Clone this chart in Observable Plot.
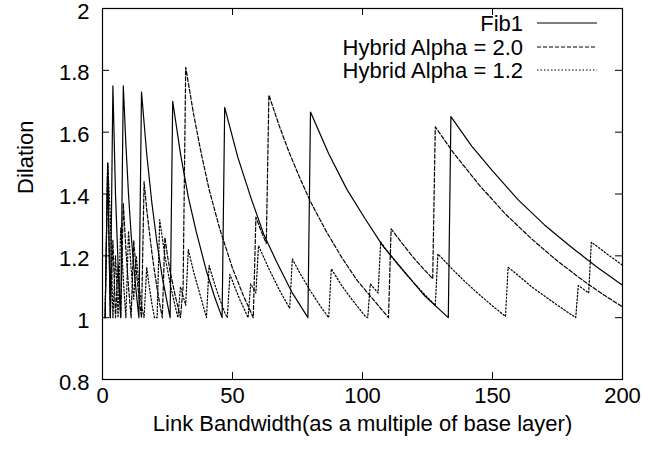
<!DOCTYPE html>
<html>
<head>
<meta charset="utf-8">
<script src="https://cdn.jsdelivr.net/npm/d3@7"></script>
<script src="https://cdn.jsdelivr.net/npm/@observablehq/plot@0.6"></script>
<style>
  body { margin: 0; background: #fff; }
  #chart { position: relative; width: 668px; height: 451px; }
  #legend { position: absolute; left: 0; top: 0; pointer-events: none; }
</style>
</head>
<body>
<div id="chart"></div>
<script>
// ---- data ----
const seriesNames = ["Fib1", "Hybrid Alpha = 2.0", "Hybrid Alpha = 1.2"];

const fib1 = [
  [1,1.0],[2,1.5],[3,1.0],[4,1.75],[5,1.4],[6,1.17],[7,1.0],[8,1.75],[9,1.56],[10,1.4],
  [11,1.27],[12,1.17],[13,1.08],[14,1.0],[15,1.73],[17,1.53],[19,1.37],[21,1.24],[23,1.13],
  [26,1.0],[27,1.70],[30,1.53],[33,1.39],[36,1.28],[40,1.15],[43,1.07],[46,1.0],[47,1.68],
  [52,1.52],[57,1.39],[62,1.27],[67,1.18],[73,1.08],[79,1.0],[80,1.665],[87,1.53],[94,1.415],
  [101,1.32],[108,1.23],[116,1.15],[124,1.07],[133,1.0],[134,1.65],[142,1.555],[150,1.475],
  [160,1.38],[170,1.30],[180,1.23],[190,1.165],[200,1.105]
];

const hybrid20 = [
  [1,1.0],[2,1.5],[3,1.0],[4,1.25],[5,1.0],[6,1.17],[7,1.0],[8,1.37],[9,1.22],[10,1.1],
  [11,1.0],[12,1.25],[13,1.15],[14,1.07],[15,1.0],[16,1.44],[17,1.35],[18,1.28],[19,1.21],
  [20,1.15],[21,1.095],[22,1.045],[23,1.0],[24,1.26],[25,1.2],[26,1.15],[27,1.11],[28,1.07],
  [29,1.035],[30,1.0],[31,1.1],[32,1.81],[35,1.66],[38,1.53],[41,1.415],[45,1.29],[50,1.16],
  [54,1.075],[58,1.0],[59,1.325],[61,1.28],[63,1.24],[64,1.72],[68,1.62],[72,1.53],[76,1.45],
  [80,1.375],[86,1.28],[92,1.195],[98,1.12],[104,1.06],[110,1.0],[111,1.287],[115,1.243],
  [120,1.19],[124,1.153],[127,1.126],[128,1.617],[135,1.533],[145,1.428],[155,1.335],
  [165,1.255],[175,1.183],[185,1.119],[192,1.078],[200,1.035]
];

const hybrid12 = [
  [1,1.0],[2,1.5],[3,1.33],[4,1.0],[5,1.2],[6,1.0],[7,1.29],[8,1.125],[9,1.0],[10,1.28],
  [11,1.16],[12,1.06],[13,1.2],[14,1.11],[15,1.04],[16,1.0],[17,1.163],[18,1.1],[19,1.045],
  [20,1.0],[21,1.0],[22,1.317],[24,1.2],[26,1.11],[28,1.035],[29,1.0],[30,1.1],[32,1.04],
  [33,1.22],[35,1.15],[37,1.09],[40,1.0],[41,1.169],[43,1.112],[45,1.062],[47,1.017],[48,1.0],
  [49,1.14],[51,1.096],[53,1.055],[56,1.0],[57,1.109],[59,1.08],[60,1.233],[64,1.158],
  [68,1.09],[72,1.03],[73,1.19],[76,1.143],[80,1.086],[84,1.035],[87,1.0],[88,1.158],
  [92,1.104],[96,1.058],[101,1.005],[102,1.0],[103,1.109],[106,1.08],[107,1.245],[110,1.21],
  [115,1.158],[120,1.11],[125,1.065],[128,1.04],[129,1.206],[135,1.153],[140,1.112],
  [145,1.074],[150,1.038],[155,1.004],[156,1.163],[160,1.136],[165,1.10],[170,1.07],
  [175,1.04],[182,1.0],[183,1.104],[187,1.08],[188,1.244],[190,1.232],[195,1.2],[200,1.17]
];

const xTicks = [0, 50, 100, 150, 200];
const yTicks = [0.8, 1, 1.2, 1.4, 1.6, 1.8, 2];
const xLabel = "Link Bandwidth(as a multiple of base layer)";
const yLabel = "Dilation";

// ---- styles / layout ----
const seriesData = [fib1, hybrid20, hybrid12];
const dashes = [null, "4,2", "1.5,2"];
const font = "'Liberation Sans', Arial, Helvetica, sans-serif";
const fs = 22;
const W = 668, H = 451, mL = 102, mR = 46, mT = 8, mB = 72;
const plotW = W - mL - mR, plotH = H - mT - mB;
const tickLen = 7;

const chart = Plot.plot({
  width: W, height: H,
  marginLeft: mL, marginRight: mR, marginTop: mT, marginBottom: mB,
  style: { fontFamily: font, fontSize: fs + "px", color: "black", background: "white" },
  x: { domain: [0, 200] },
  y: { domain: [0.8, 2] },
  marks: [
    Plot.axisX(xTicks, { tickSize: 0, tickPadding: 8, fontSize: fs, label: null, tickFormat: d => String(d) }),
    Plot.axisY(yTicks, { tickSize: 0, tickPadding: 13, dy: 3, fontSize: fs, label: null, tickFormat: d => String(d) }),
    Plot.tickX(xTicks, { x: d => d, insetTop: plotH - tickLen, stroke: "black" }),
    Plot.tickX(xTicks, { x: d => d, insetBottom: plotH - tickLen, stroke: "black" }),
    Plot.tickY(yTicks, { y: d => d, insetRight: plotW - tickLen, stroke: "black" }),
    Plot.tickY(yTicks, { y: d => d, insetLeft: plotW - tickLen, stroke: "black" }),
    ...seriesData.map((s, i) => Plot.line(s, {
      x: d => d[0], y: d => d[1], stroke: "black", strokeWidth: 1.2,
      strokeDasharray: dashes[i]
    })),
    Plot.frame({ stroke: "black", strokeWidth: 1.2 }),
    Plot.text([xLabel], { frameAnchor: "bottom", dy: 51, fontSize: fs, fill: "black" }),
    Plot.text([yLabel], { frameAnchor: "left", dx: -77, rotate: -90, fontSize: fs, fill: "black" })
  ]
});

const host = document.getElementById("chart");
host.appendChild(chart);

// legend inside the plot, top-right (gnuplot style)
const rowY = [23, 47, 70];
const legend = d3.create("svg").attr("id", "legend").attr("width", W).attr("height", H)
  .style("font-family", font).style("font-size", fs + "px");
seriesNames.forEach((name, i) => {
  legend.append("text").attr("x", 523).attr("y", rowY[i] + 8)
    .attr("text-anchor", "end").attr("fill", "black").text(name);
  legend.append("line").attr("x1", 537).attr("x2", 597).attr("y1", rowY[i]).attr("y2", rowY[i])
    .attr("stroke", "black").attr("stroke-width", 1.1)
    .attr("stroke-dasharray", dashes[i]);
});
host.appendChild(legend.node());
</script>
</body>
</html>
